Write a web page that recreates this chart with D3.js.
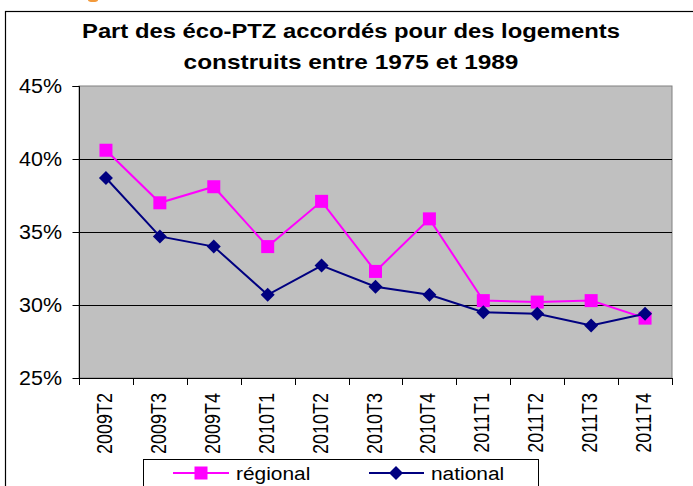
<!DOCTYPE html>
<html><head><meta charset="utf-8">
<script src="https://cdn.jsdelivr.net/npm/d3@7"></script>
<style>body{margin:0;background:#fff;} svg{display:block;}</style>
</head><body>
<script>
const categories = ["2009T2","2009T3","2009T4","2010T1","2010T2","2010T3","2010T4","2011T1","2011T2","2011T3","2011T4"];
const regional = [40.6, 37.0, 38.1, 34.0, 37.1, 32.3, 35.9, 30.3, 30.2, 30.3, 29.1];
const national = [38.7, 34.7, 34.0, 30.7, 32.7, 31.25, 30.7, 29.5, 29.4, 28.6, 29.4];
const yTicks = [25, 30, 35, 40, 45];
const titleLines = ["Part des éco-PTZ accordés pour des logements", "construits entre 1975 et 1989"];
const seriesNames = ["régional", "national"];

const W = 693, H = 486;
const svg = d3.select("body").append("svg").attr("width", W).attr("height", H);
const FONT = "Liberation Sans, Arial, sans-serif";

// outer frame
svg.append("rect").attr("x", 5.5).attr("y", 11.5).attr("width", 700).attr("height", 500)
  .attr("fill", "#fff").attr("stroke", "#000").attr("stroke-width", 1.2);
svg.append("ellipse").attr("cx", 93).attr("cy", 0).attr("rx", 5).attr("ry", 2).attr("fill", "#f39a3c");

function stext(parent, x, y, str, size, sx, opts = {}) {
  const g = parent.append("g").attr("transform", `translate(${x},${y}) scale(${sx},1)` + (opts.rotate ? ` rotate(${opts.rotate})` : ""));
  return g.append("text").attr("x", 0).attr("y", 0).text(str)
    .attr("font-family", FONT).attr("font-size", size)
    .attr("font-weight", opts.bold ? "bold" : "normal")
    .attr("text-anchor", opts.anchor || "start").attr("fill", "#000");
}

// title
stext(svg, 351, 38, titleLines[0], 20, 1.19, {bold: true, anchor: "middle"});
stext(svg, 351, 69, titleLines[1], 20, 1.22, {bold: true, anchor: "middle"});

const m = {left: 79, right: 672, top: 86, bottom: 378};
const x = d3.scaleBand().domain(categories).range([m.left, m.right]);
const y = d3.scaleLinear().domain([25, 45]).range([m.bottom, m.top]);

// plot area
svg.append("rect").attr("x", m.left).attr("y", m.top).attr("width", m.right - m.left).attr("height", m.bottom - m.top)
  .attr("fill", "#c0c0c0").attr("stroke", "#808080").attr("stroke-width", 1);

// gridlines
svg.append("g").selectAll("line").data(yTicks.filter(t => t > 25 && t < 45)).join("line")
  .attr("x1", m.left).attr("x2", m.right).attr("y1", d => Math.round(y(d)) + 0.5).attr("y2", d => Math.round(y(d)) + 0.5)
  .attr("stroke", "#000").attr("stroke-width", 1);

// y axis
const yAxis = svg.append("g").attr("transform", `translate(${m.left + 0.5},0)`)
  .call(d3.axisLeft(y).tickValues(yTicks).tickSize(7).tickFormat(() => ""));
yAxis.select(".domain").attr("stroke", "#000").attr("d", `M-7,${m.top + 0.5}H0V${m.bottom + 0.5}`);
yAxis.selectAll(".tick line").attr("stroke", "#000");
yTicks.forEach(t => {
  stext(svg, 62, y(t) + 7, t + "%", 19.5, 1.1, {anchor: "end"});
});

// x axis
const xAxis = svg.append("g").attr("transform", `translate(0,${m.bottom + 0.5})`)
  .call(d3.axisBottom(x).tickSize(0).tickFormat(() => ""));
xAxis.select(".domain").attr("stroke", "#000").attr("d", `M${m.left},0H${m.right}`);
const bounds = categories.map(c => x(c)).concat([x(categories[categories.length - 1]) + x.bandwidth()]);
svg.append("g").selectAll("line").data(bounds).join("line")
  .attr("x1", d => Math.round(d) + 0.5).attr("x2", d => Math.round(d) + 0.5)
  .attr("y1", m.bottom).attr("y2", m.bottom + 7).attr("stroke", "#000");
categories.forEach(c => {
  stext(svg, x(c) + x.bandwidth() / 2 + 6, 393, c, 18, 1.25, {rotate: -90, anchor: "end"});
});

// series
const cx = c => x(c) + x.bandwidth() / 2;
const line = d3.line().x((d, i) => cx(categories[i])).y(d => y(d));
const colR = "#ff00ff", colN = "#000080";
svg.append("path").datum(regional).attr("d", line).attr("fill", "none").attr("stroke", colR).attr("stroke-width", 2);
svg.append("g").selectAll("rect").data(regional).join("rect")
  .attr("x", (d, i) => cx(categories[i]) - 6.5).attr("y", d => y(d) - 6.5)
  .attr("width", 13).attr("height", 13).attr("fill", colR);
svg.append("path").datum(national).attr("d", line).attr("fill", "none").attr("stroke", colN).attr("stroke-width", 2);
const diamond = (px, py, r) => `M${px},${py - r}L${px + r},${py}L${px},${py + r}L${px - r},${py}Z`;
svg.append("g").selectAll("path").data(national).join("path")
  .attr("d", (d, i) => diamond(cx(categories[i]), y(d), 7)).attr("fill", colN);

// legend
const lg = svg.append("g");
lg.append("rect").attr("x", 143.5).attr("y", 459.5).attr("width", 395).attr("height", 60)
  .attr("fill", "#fff").attr("stroke", "#000").attr("stroke-width", 1);
lg.append("line").attr("x1", 173).attr("x2", 229).attr("y1", 473).attr("y2", 473).attr("stroke", colR).attr("stroke-width", 2);
lg.append("rect").attr("x", 201 - 6.5).attr("y", 473 - 6.5).attr("width", 13).attr("height", 13).attr("fill", colR);
stext(lg, 236, 480, seriesNames[0], 19, 1.1);
lg.append("line").attr("x1", 369).attr("x2", 424).attr("y1", 473).attr("y2", 473).attr("stroke", colN).attr("stroke-width", 2);
lg.append("path").attr("d", diamond(396, 473, 7)).attr("fill", colN);
stext(lg, 431, 480, seriesNames[1], 19, 1.1);
</script>
</body></html>
